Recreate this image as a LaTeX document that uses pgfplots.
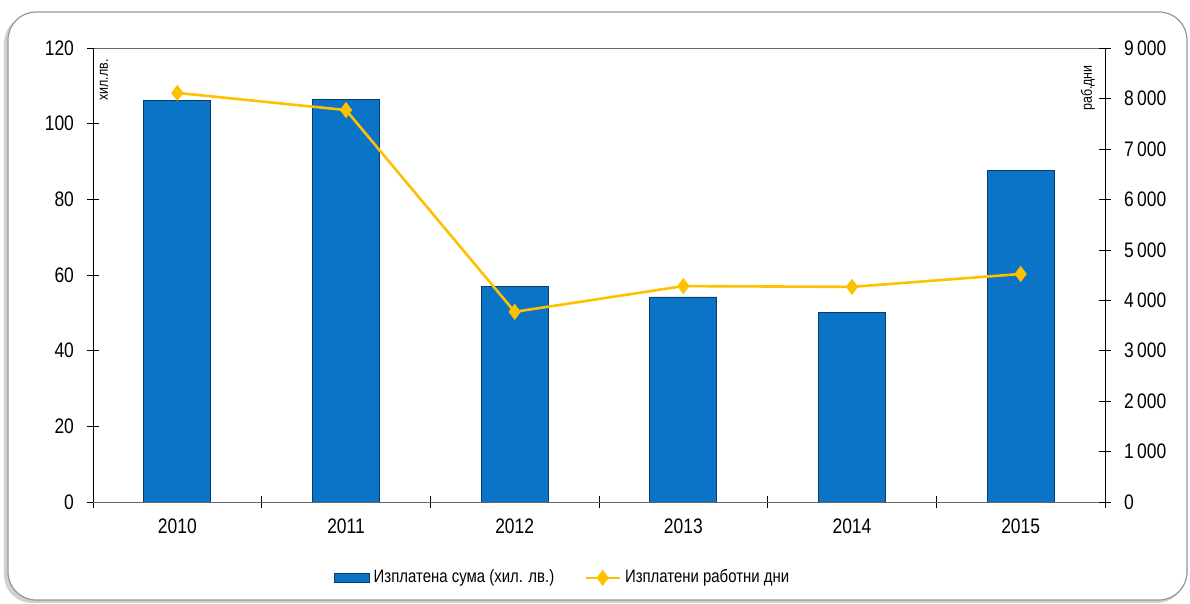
\documentclass[border=0pt]{standalone}
\usepackage{pgfplots}
\pgfplotsset{compat=1.18}
\usepackage{fontspec}
\setmainfont[FakeStretch=0.83]{Liberation Sans}
\definecolor{barblue}{RGB}{11,116,199}
\definecolor{bardark}{RGB}{8,60,110}
\definecolor{lineyel}{RGB}{255,192,0}
\definecolor{framegray}{RGB}{150,150,150}
\begin{document}
\begin{tikzpicture}[x=1pt,y=1pt]
% bounding box: 1190x604 px at 0.5pt/px, axis origin at px (93,502)
\useasboundingbox (-46.5,-51) rectangle (548.5,251);
% frame with shadow
\fill[black!18,rounded corners=14pt] (-44.5,-50.5) rectangle (546,243.5);
\filldraw[fill=white,draw=framegray,line width=0.6pt,rounded corners=14pt] (-42.5,-49) rectangle (547,245);
\begin{axis}[
  scale only axis,
  width=506pt, height=227pt,
  xmin=-0.5, xmax=5.5,
  ymin=0, ymax=120,
  ytick={0,20,...,120},
  xtick={0,...,5},
  xticklabels={2010,2011,2012,2013,2014,2015},
  minor xtick={-0.5,0.5,...,5.5},
  major x tick style={draw=none},
  minor x tick style={black},
  tick align=center,
  major tick length=6pt,
  minor tick length=6pt,
  ytick pos=left,
  xtick pos=bottom,
  separate axis lines,
  x axis line style={draw=gray!80!black},
  y axis line style={draw=black},
  ytick style={black},
  tick label style={font=\fontsize{10.5}{12}\selectfont},
  /pgf/number format/assume math mode=true,
  xticklabel style={yshift=-2pt},
  yticklabel style={xshift=-3pt},
  legend style={at={(0.465,-0.167)}, anchor=center, draw=none, fill=none,
    legend columns=2, font=\fontsize{9}{11}\selectfont,
    /tikz/every even column/.append style={column sep=13pt},
    legend cell align=left},
]
\addplot[ybar, bar width=33.5pt, fill=barblue, draw=bardark, line width=0.4pt,
  legend image code/.code={\fill[barblue,draw=bardark,line width=0.4pt] (0pt,-2.4pt) rectangle (17.5pt,2.4pt);}]
  coordinates {(0,106.1) (1,106.4) (2,56.9) (3,54.2) (4,50.0) (5,87.6)};
\addlegendentry{Изплатена сума (хил. лв.)}
\addlegendimage{draw=lineyel, line width=1.3pt, mark=diamond*, mark size=3pt, mark options={fill=lineyel,draw=lineyel}}
\addlegendentry{Изплатени работни дни}
\end{axis}
\begin{axis}[
  scale only axis,
  width=506pt, height=227pt,
  xmin=-0.5, xmax=5.5,
  ymin=0, ymax=9000,
  ytick={0,1000,...,9000},
  axis x line=none,
  axis y line*=right,
  tick align=center,
  major tick length=6pt,
  ytick style={black},
  y axis line style={draw=black},
  tick label style={font=\fontsize{10.5}{12}\selectfont},
  /pgf/number format/assume math mode=true,
  /pgf/number format/1000 sep={\,},
  yticklabel style={xshift=3pt},
]
\addplot[draw=lineyel, line width=1.3pt, mark=diamond*, mark size=3pt, mark options={fill=lineyel,draw=lineyel}]
  coordinates {(0,8110) (1,7770) (2,3770) (3,4280) (4,4265) (5,4520)};
\end{axis}
\node[rotate=90, font=\fontsize{7.5}{8}\selectfont] at (5.5,211) {хил.лв.};
\node[rotate=90, font=\fontsize{7.5}{8}\selectfont] at (497.5,207) {раб.дни};
\end{tikzpicture}
\end{document}
